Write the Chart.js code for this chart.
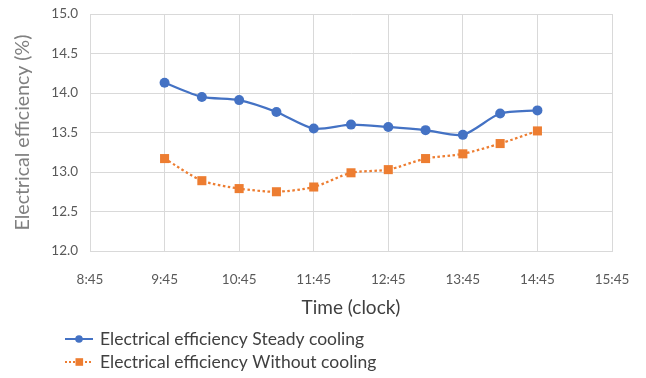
<!DOCTYPE html>
<html>
<head>
<meta charset="utf-8">
<script src="https://cdn.jsdelivr.net/npm/chart.js@4.4.1/dist/chart.umd.min.js"></script>
<style>
  html, body { margin: 0; padding: 0; background: #fff; }
  #wrap { width: 646px; height: 378px; }
</style>
</head>
<body>
<div id="wrap"><canvas id="chart" width="646" height="378"></canvas></div>
<script>
// --- data ---
const times = ['9:45', '10:15', '10:45', '11:15', '11:45', '12:15', '12:45', '13:15', '13:45', '14:15', '14:45'];
const steadyCooling = [14.13, 13.95, 13.91, 13.76, 13.55, 13.60, 13.57, 13.53, 13.47, 13.74, 13.78];
const withoutCooling = [13.17, 12.89, 12.79, 12.75, 12.81, 12.99, 13.03, 13.17, 13.23, 13.36, 13.52];
const xTickLabels = ['8:45', '9:45', '10:45', '11:45', '12:45', '13:45', '14:45', '15:45'];
const yTickLabels = ['12.0', '12.5', '13.0', '13.5', '14.0', '14.5', '15.0'];

const BLUE = '#4472C4';
const ORANGE = '#ED7D31';
const FONT = 'Lato, "Open Sans", sans-serif';

function toMinutes(t) {
    const [h, m] = t.split(':').map(Number);
    return h * 60 + m;
}
function fromMinutes(v) {
    const h = Math.floor(v / 60);
    const m = v % 60;
    return h + ':' + String(m).padStart(2, '0');
}

const xTicks = xTickLabels.map(toMinutes);
const yTicks = yTickLabels.map(Number);

const legendItems = [
    { label: 'Electrical efficiency Steady cooling', color: BLUE, dash: [], marker: 'circle' },
    { label: 'Electrical efficiency Without cooling', color: ORANGE, dash: [2, 2], marker: 'rect' },
];

// legend drawn under the axis title, like the spreadsheet original
const bottomLegend = {
    id: 'bottomLegend',
    afterDraw(chart) {
        const ctx = chart.ctx;
        ctx.save();
        legendItems.forEach((it, i) => {
            const y = 339 + i * 23;
            ctx.strokeStyle = it.color;
            ctx.lineWidth = 2;
            ctx.setLineDash(it.dash);
            ctx.beginPath();
            ctx.moveTo(65, y);
            ctx.lineTo(93, y);
            ctx.stroke();
            ctx.setLineDash([]);
            ctx.fillStyle = it.color;
            if (it.marker === 'circle') {
                ctx.beginPath();
                ctx.arc(79, y, 3.8, 0, Math.PI * 2);
                ctx.fill();
            } else {
                ctx.fillRect(75.5, y - 3.8, 7.6, 7.6);
            }
            ctx.fillStyle = '#404040';
            ctx.font = '17.5px ' + FONT;
            ctx.textBaseline = 'middle';
            ctx.fillText(it.label, 100, y);
        });
        ctx.restore();
    }
};

new Chart(document.getElementById('chart'), {
    type: 'line',
    data: {
        datasets: [
            {
                label: legendItems[0].label,
                data: times.map((t, i) => ({ x: toMinutes(t), y: steadyCooling[i] })),
                borderColor: BLUE,
                backgroundColor: BLUE,
                borderWidth: 2.25,
                pointStyle: 'circle',
                pointRadius: 5,
                pointBorderWidth: 0,
                tension: 0.25,
            },
            {
                label: legendItems[1].label,
                data: times.map((t, i) => ({ x: toMinutes(t), y: withoutCooling[i] })),
                borderColor: ORANGE,
                backgroundColor: ORANGE,
                borderWidth: 2.25,
                borderDash: [2.5, 2.5],
                pointStyle: 'rect',
                pointRadius: 6.4,
                pointBorderWidth: 0,
                tension: 0.25,
            }
        ]
    },
    options: {
        responsive: false,
        animation: false,
        layout: { autoPadding: false, padding: { left: 0, right: 34, top: 14, bottom: 56 } },
        plugins: {
            legend: { display: false },
            tooltip: { enabled: false },
        },
        scales: {
            x: {
                type: 'linear',
                min: xTicks[0],
                max: xTicks[xTicks.length - 1],
                afterBuildTicks: s => { s.ticks = xTicks.map(v => ({ value: v })); },
                afterFit: s => { s.height = 71; s.paddingLeft = 0; s.paddingRight = 0; },
                grid: { color: '#d9d9d9', lineWidth: 1, drawTicks: false },
                border: { color: '#d9d9d9' },
                ticks: {
                    callback: v => fromMinutes(v),
                    color: '#595959',
                    font: { family: FONT, size: 13.5 },
                    padding: 21,
                    maxRotation: 0,
                },
                title: {
                    display: true,
                    text: 'Time (clock)',
                    color: '#404040',
                    font: { family: FONT, size: 19 },
                    padding: { top: 0, bottom: 3 },
                },
            },
            y: {
                min: yTicks[0],
                max: yTicks[yTicks.length - 1],
                afterBuildTicks: s => { s.ticks = yTicks.map(v => ({ value: v })); },
                afterFit: s => { s.width = 90; s.paddingTop = 0; s.paddingBottom = 0; },
                grid: { color: '#d9d9d9', lineWidth: 1, drawTicks: false },
                border: { color: '#d9d9d9' },
                ticks: {
                    callback: v => v.toFixed(1),
                    color: '#595959',
                    font: { family: FONT, size: 13.5 },
                    padding: 12,
                },
                title: {
                    display: true,
                    text: 'Electrical efficiency (%)',
                    color: '#808080',
                    font: { family: FONT, size: 19.5 },
                    padding: { top: 11, bottom: 0 },
                },
            },
        },
    },
    plugins: [bottomLegend],
});
</script>
</body>
</html>
